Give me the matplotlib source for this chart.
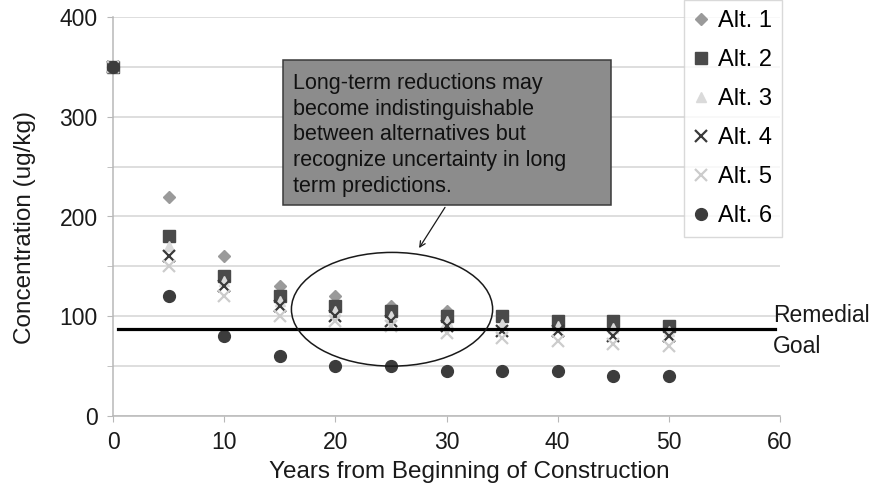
import numpy as np
import matplotlib.pyplot as plt
from matplotlib.patches import Ellipse, Rectangle

plt.rcParams['font.family'] = ['Liberation Sans', 'DejaVu Sans']

# data
years = [0, 5, 10, 15, 20, 25, 30, 35, 40, 45, 50]
alt1 = [350, 220, 160, 130, 120, 110, 105, 100, 95, 95, 90]
alt2 = [350, 180, 140, 120, 110, 105, 100, 100, 95, 95, 90]
alt3 = [350, 170, 135, 115, 105, 100, 95, 92, 90, 88, 85]
alt4 = [350, 160, 130, 110, 100, 95, 90, 85, 85, 80, 80]
alt5 = [350, 150, 120, 100, 95, 90, 83, 78, 75, 72, 70]
alt6 = [350, 120, 80, 60, 50, 50, 45, 45, 45, 40, 40]
remedial_goal = 87

series = [
    ('Alt. 1', alt1, 'D', '#9a9a9a', 6.5),
    ('Alt. 2', alt2, 's', '#4a4a4a', 8),
    ('Alt. 3', alt3, '^', '#dadada', 7.5),
    ('Alt. 4', alt4, 'x', '#3a3a3a', 8),
    ('Alt. 5', alt5, 'x', '#cccccc', 8),
    ('Alt. 6', alt6, 'o', '#3c3c3c', 8.5),
]

TXT = '#1a1a1a'

fig = plt.figure(figsize=(8.81, 4.86), dpi=100)
ax = fig.add_axes([113/881, 1-416/486, 667/881, 399/486])

for label, vals, mk, col, ms in series:
    if mk == 'x':
        ax.plot(years, vals, linestyle='none', marker=mk, color=col, ms=ms,
                mew=1.6, label=label, clip_on=False, zorder=3)
    else:
        ax.plot(years, vals, linestyle='none', marker=mk, color=col, ms=ms,
                mec=col, label=label, clip_on=False, zorder=3)

# remedial goal line
ax.axhline(remedial_goal, xmin=0.007, xmax=0.992, color='black', lw=2.3, zorder=4)
ax.text(1.0 - 7/667, remedial_goal - 1.5, 'Remedial\nGoal', transform=ax.get_yaxis_transform(),
        ha='left', va='center', fontsize=16.5, linespacing=1.45, color=TXT, clip_on=False)

ax.set_xlim(0, 60)
ax.set_ylim(0, 400)
ax.set_xticks(np.arange(0, 61, 10))
ax.set_yticks(np.arange(0, 401, 100))
ax.set_yticks(np.arange(50, 400, 100), minor=True)
ax.grid(True, which='both', axis='y', color='#d4d4d4', lw=1.1, zorder=0)
ax.set_axisbelow(True)
for s in ['top', 'right']:
    ax.spines[s].set_visible(False)
for s in ['left', 'bottom']:
    ax.spines[s].set_color('#b8b8b8')
    ax.spines[s].set_linewidth(1.1)
ax.tick_params(axis='both', which='both', colors='#b8b8b8', length=4, labelsize=16.5,
               labelcolor=TXT)
ax.tick_params(axis='y', pad=7)
ax.tick_params(axis='x', pad=7)

fig.text(469/881, 1-478/486, 'Years from Beginning of Construction', fontsize=17.5,
         color=TXT, ha='center', va='baseline')
fig.text(25/881, 1-228/486, 'Concentration (ug/kg)', fontsize=17.5, color=TXT,
         rotation=90, ha='center', va='center')

# ellipse highlighting the late years
ax.add_patch(Ellipse((25.1, 107), 18.1, 114, fill=False, ec=TXT, lw=1.1, zorder=5))

# callout box
ax.add_patch(Rectangle((0.255, 0.529), 0.492, 0.363, transform=ax.transAxes,
                       fc='#8c8c8c', ec='#3a3a3a', lw=1.1, zorder=6, clip_on=False))
ax.text(0.27, 0.86, 'Long-term reductions may\nbecome indistinguishable\n'
        'between alternatives but\nrecognize uncertainty in long\nterm predictions.',
        transform=ax.transAxes, ha='left', va='top', fontsize=15.5, linespacing=1.3,
        color='#111111', zorder=7)
ax.annotate('', xy=(27.4, 166), xytext=(30, 211.5),
            arrowprops=dict(arrowstyle='->', color=TXT, lw=0.9), zorder=7)

leg = ax.legend(loc='upper left', bbox_to_anchor=(684/881, 1.0), bbox_transform=fig.transFigure,
                fontsize=17, frameon=True, fancybox=False, handlelength=0.6, numpoints=1,
                handletextpad=0.4, labelspacing=0.72, borderpad=0.42, borderaxespad=0)
leg.get_frame().set_edgecolor('#d0d0d0')
leg.get_frame().set_linewidth(1.0)

fig.savefig('out.png', dpi=100)
